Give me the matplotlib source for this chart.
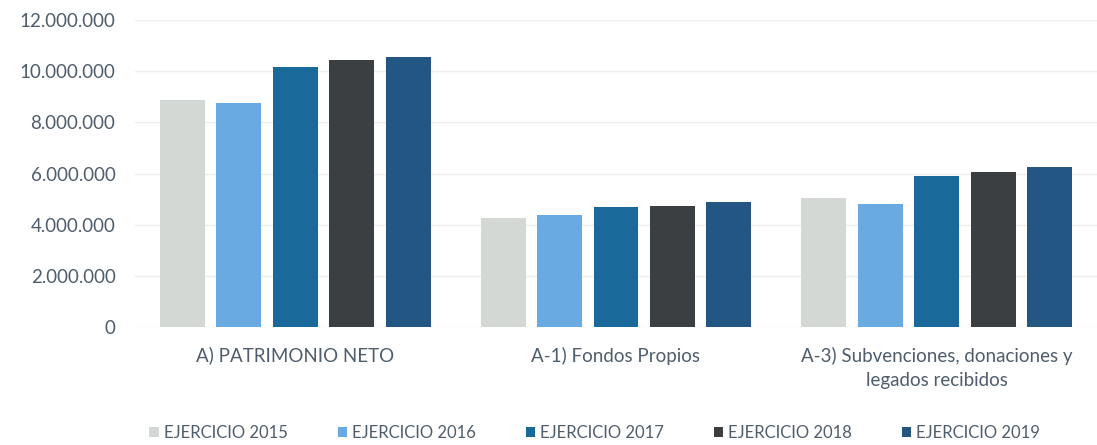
import matplotlib
matplotlib.use("Agg")
import matplotlib.pyplot as plt
import numpy as np

plt.rcParams['font.family'] = ['Lato', 'DejaVu Sans']

categorias = ["A) PATRIMONIO NETO", "A-1) Fondos Propios",
              "A-3) Subvenciones, donaciones y\nlegados recibidos"]
ejercicios = ["EJERCICIO 2015", "EJERCICIO 2016", "EJERCICIO 2017",
              "EJERCICIO 2018", "EJERCICIO 2019"]
v2015 = [8890000, 4250000, 5030000]
v2016 = [8770000, 4370000, 4800000]
v2017 = [10180000, 4680000, 5890000]
v2018 = [10450000, 4720000, 6080000]
v2019 = [10560000, 4870000, 6240000]
series = [v2015, v2016, v2017, v2018, v2019]

colores = ["#d3d8d5", "#69aae3", "#19699a", "#3b3f41", "#245683"]
texto = "#4f5d6c"

fig = plt.figure(figsize=(10.97, 4.45), dpi=100)
ax = fig.add_axes([0.123, 0.265, 0.877, 0.69])

x = np.arange(len(categorias))
ancho = 0.14
paso = 0.176
for i, (vals, col, lab) in enumerate(zip(series, colores, ejercicios)):
    ax.bar(x + (i - 2) * paso, vals, width=ancho, color=col, label=lab, zorder=3)

ax.set_xlim(-0.5, 2.5)
ax.set_ylim(0, 12000000)
ax.set_yticks(np.arange(0, 12000001, 2000000))
ax.set_yticklabels([f"{int(v):,}".replace(",", ".") for v in ax.get_yticks()],
                   fontsize=13.5, color=texto)
ax.set_xticks(x)
ax.set_xticklabels(categorias, fontsize=13.5, color=texto, linespacing=1.5)
ax.tick_params(axis='both', length=0)
ax.tick_params(axis='y', pad=14)
ax.tick_params(axis='x', pad=14)
ax.grid(axis='y', color="#eeeeee", linewidth=1, zorder=0)
for s in ax.spines.values():
    s.set_visible(False)

leg = fig.legend(loc='lower center', bbox_to_anchor=(0.542, -0.025), ncol=5,
                 frameon=False, fontsize=12, handlelength=0.55, handleheight=0.55,
                 handletextpad=0.3, columnspacing=3.0)
for t in leg.get_texts():
    t.set_color(texto)

fig.savefig("out.png", dpi=100)
